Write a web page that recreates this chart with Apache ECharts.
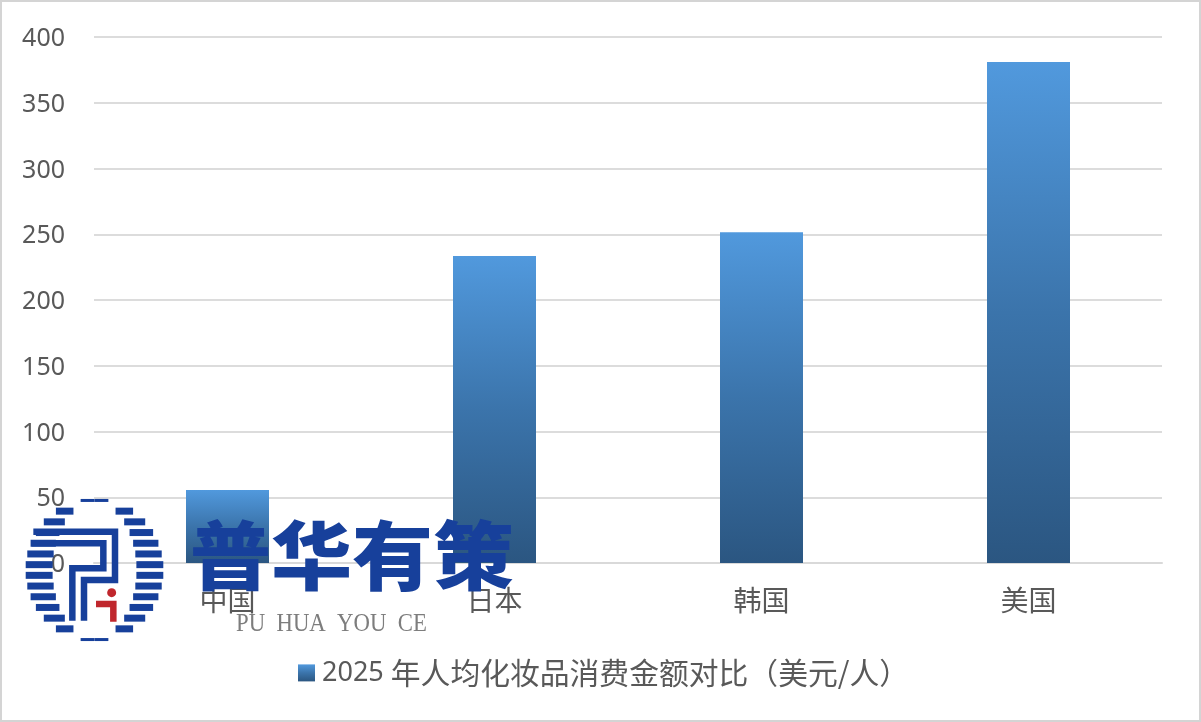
<!DOCTYPE html>
<html><head><meta charset="utf-8">
<style>html,body{margin:0;padding:0;background:#fff}#c{width:1201px;height:722px}</style>
<script src="https://cdn.jsdelivr.net/npm/echarts@6/dist/echarts.min.js"></script>
</head><body><div id="c"></div>
<script>
const categories = ['中国','日本','韩国','美国'];
const values = [55.5, 233.5, 251.5, 381];
const yTicks = [0,50,100,150,200,250,300,350,400];
const seriesName = '2025 年人均化妆品消费金额对比（美元/人）';
const FONT = '"Noto Sans","Noto Sans CJK SC",sans-serif';
const BLUE = '#17409b', RED = '#c0272d';

const chart = echarts.init(document.getElementById('c'), null, {renderer:'canvas'});
const grad = new echarts.graphic.LinearGradient(0,0,0,1,[
  {offset:0,color:'#5199dd'},{offset:0.5,color:'#3b74ab'},{offset:1,color:'#2b5681'}]);

// watermark logo (decoration, not data)
const logo = [];
const cx = 94.5, cy = 570, rx = 69, ry = 71, irx = 42, iry = 68;
for (let k = -6.5; k <= 6.5; k += 1) {
  const dy = k * 10.7;
  const y = cy + dy;
  const o = rx * Math.sqrt(Math.max(0, 1 - dy*dy/(ry*ry)));
  const i = irx * Math.sqrt(Math.max(0, 1 - dy*dy/(iry*iry)));
  const h = Math.abs(k) > 6 ? 3 : 7;
  logo.push({type:'rect',z:100,shape:{x:cx-o,y:y-h/2,width:o-i,height:h},style:{fill:BLUE}});
  logo.push({type:'rect',z:100,shape:{x:cx+i,y:y-h/2,width:o-i,height:h},style:{fill:BLUE}});
}
const toPx = pts => pts.map(p => [p[0]/3, p[1]/3 + 470]);
logo.push({type:'polyline',z:100,shape:{points:toPx([[100,185],[345,185],[345,330],[252,330],[252,452]])},style:{stroke:BLUE,lineWidth:6.5,fill:null}});
logo.push({type:'polyline',z:100,shape:{points:toPx([[95,220],[310,220],[310,295],[217,295],[217,452]])},style:{stroke:BLUE,lineWidth:6.5,fill:null}});
logo.push({type:'polyline',z:100,shape:{points:toPx([[288,402],[340,402],[340,455]])},style:{stroke:RED,lineWidth:6.5,fill:null}});
logo.push({type:'circle',z:100,shape:{cx:335/3,cy:368/3+470,r:4.5},style:{fill:RED}});

chart.setOption({
  animation:false,
  backgroundColor:'#fff',
  grid:{left:94,right:39,top:37,bottom:159,containLabel:false},
  xAxis:{type:'category',data:categories,
    axisTick:{show:false},
    axisLine:{lineStyle:{color:'#d9d9d9',width:2}},
    axisLabel:{color:'#595959',fontSize:28,fontFamily:FONT,margin:26}},
  yAxis:{type:'value',min:0,max:400,interval:50,
    axisLine:{show:false},axisTick:{show:false},
    splitLine:{lineStyle:{color:'#dcdcdc',width:2}},
    axisLabel:{margin:29,formatter:function(v){return '{v|'+v+'}';},
      rich:{v:{color:'#595959',fontSize:25,fontFamily:FONT,padding:[4,0,0,0]}}}},
  legend:{left:293,top:653,itemWidth:17,itemHeight:17,icon:'rect',
    formatter:function(){return '{d|2025 }{c|年人均化妆品消费金额对比（美元/人）}';},
    textStyle:{color:'#595959',rich:{
      d:{fontSize:27,color:'#595959',fontFamily:FONT,padding:[0,0,0,2]},
      c:{fontSize:29.8,color:'#595959',fontFamily:'"Noto Sans CJK SC"'}}},
    data:[seriesName]},
  series:[{type:'bar',name:seriesName,data:values,barWidth:83,
    itemStyle:{color:grad}}],
  graphic:[
    {type:'rect',z:90,shape:{x:1,y:1,width:1199,height:720},style:{fill:null,stroke:'#d4d4d4',lineWidth:2}},
    ...logo,
    {type:'text',z:100,x:190,y:518,scaleY:0.92,style:{text:'普华有策',fill:BLUE,fontSize:81,fontWeight:900,fontFamily:'"Noto Sans CJK SC"'}},
    {type:'text',z:100,x:236,y:612,scaleX:0.91,style:{text:'PU  HUA  YOU  CE',fill:'#7d7d7d',fontSize:25,fontFamily:'"Liberation Serif"'}}
  ]
});
</script></body></html>
